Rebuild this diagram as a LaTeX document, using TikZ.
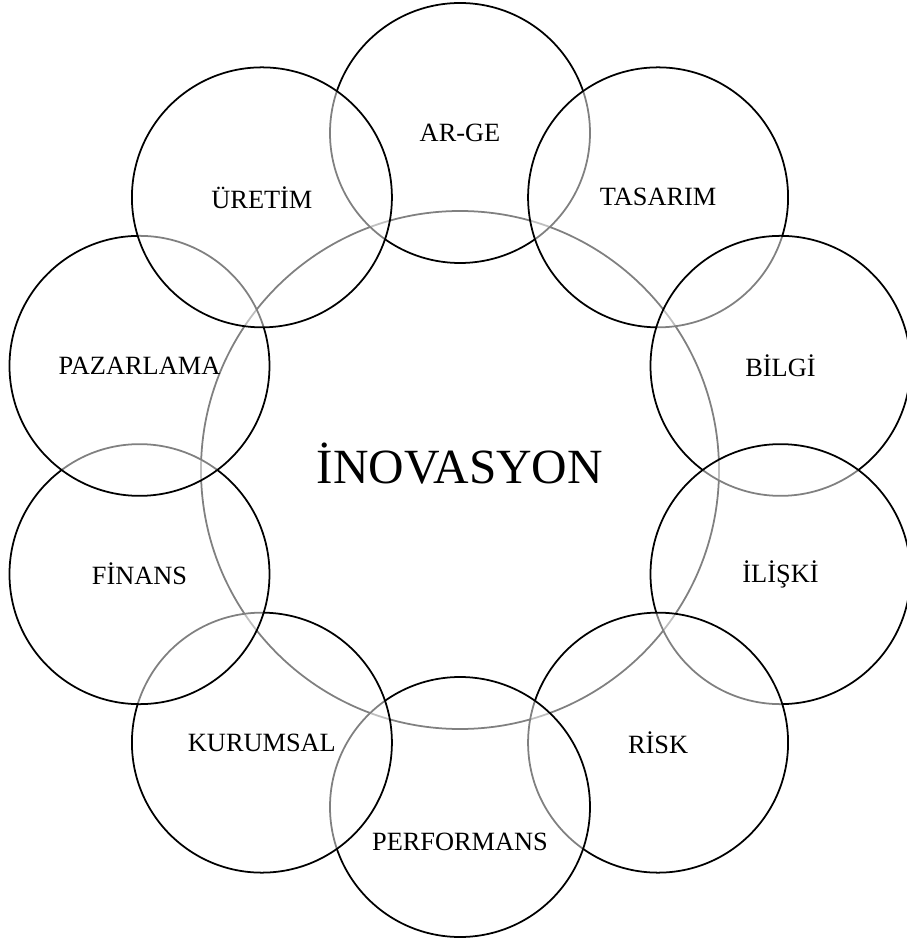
\documentclass[tikz,border=0pt]{standalone}
\usepackage{fontspec}
\setmainfont{Liberation Serif}
\usepackage{tikz}
\usetikzlibrary{positioning}

\begin{document}
\begin{tikzpicture}[
    core/.style={draw=black, circle, line width=1pt, minimum size=10.36cm, inner sep=0pt},
    petal/.style={draw=black, circle, line width=1pt, fill=white, fill opacity=0.5, text opacity=1, minimum size=5.2cm, inner sep=0pt, font=\fontsize{15}{17}\selectfont},
    tag/.style={font=\fontsize{15}{17}\selectfont}
  ]
    \useasboundingbox (-9.2,-9.42) rectangle (8.94,9.4);

    \node[core] (inovasyon) at (0, 0) {};
    \node[font=\fontsize{28}{30}\selectfont] (inovasyontext) at (0, 0.12) {İNOVASYON};

    \node[petal] (arge) at (90:6.74) {AR-GE};
    \node[petal] (tasarim) at (54:6.74) {TASARIM};
    \node[petal] (bilgi) at (18:6.74) {BİLGİ};
    \node[petal] (iliski) at (-18:6.74) {İLİŞKİ};
    \node[petal] (risk) at (-54:6.74) {RİSK};
    \node[petal] (performans) at (-90:6.74) {};
    \node[petal] (kurumsal) at (-126:6.74) {KURUMSAL};
    \node[petal] (finans) at (-162:6.74) {FİNANS};
    \node[petal] (pazarlama) at (162:6.74) {PAZARLAMA};
    \node[petal] (uretim) at (126:6.74) {ÜRETİM};

    \node[tag] (performanstext) at ([yshift=-0.7cm]performans.center) {PERFORMANS};
  \end{tikzpicture}
\end{document}
